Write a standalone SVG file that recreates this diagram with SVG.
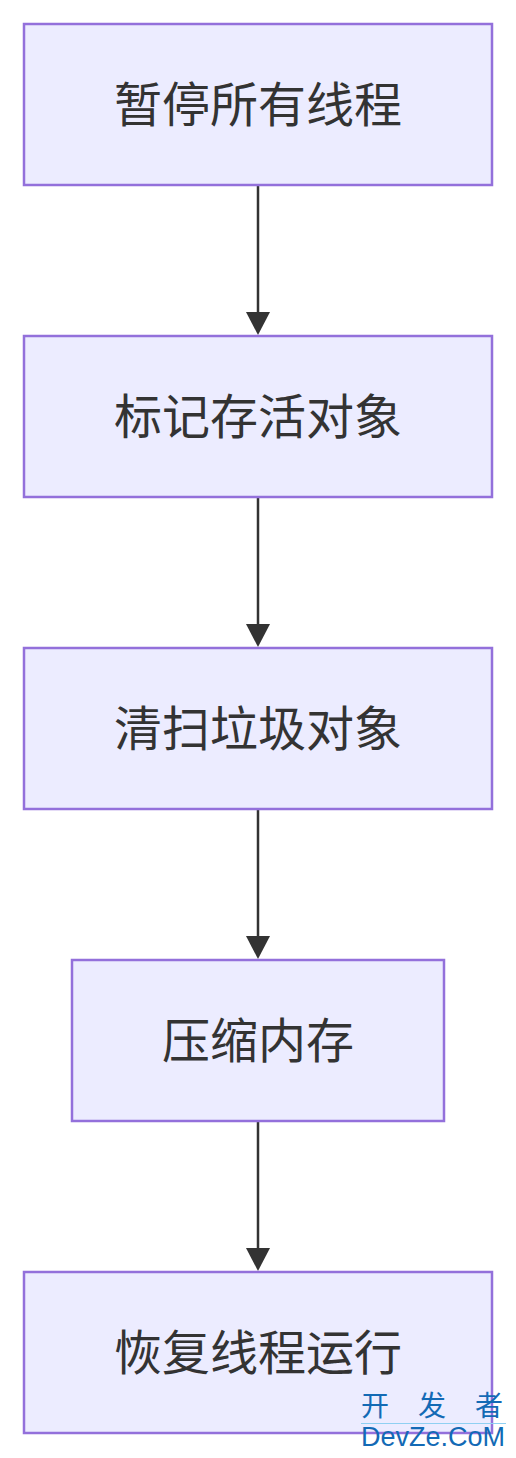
<svg xmlns="http://www.w3.org/2000/svg" width="516" height="1458" viewBox="0 0 516 1458">
<style>
.node rect{fill:#ECECFF;stroke:#9370DB;stroke-width:2.5}
.node text{font-family:"Noto Sans CJK SC","Noto Sans",sans-serif;font-size:48px;fill:#333333;text-anchor:middle}
.edge line{stroke:#333333;stroke-width:2.5}
.edge polygon{fill:#333333}
.wm{fill:#136ab5}
</style>
<rect x="0" y="0" width="516" height="1458" fill="#ffffff"/>
<g id="connectors">
<g class="edge"><line x1="258" y1="186" x2="258" y2="314"/><polygon points="246,312 270,312 258,335"/></g>
<g class="edge"><line x1="258" y1="498" x2="258" y2="626"/><polygon points="246,624 270,624 258,647"/></g>
<g class="edge"><line x1="258" y1="810" x2="258" y2="938"/><polygon points="246,936 270,936 258,959"/></g>
<g class="edge"><line x1="258" y1="1122" x2="258" y2="1250"/><polygon points="246,1248 270,1248 258,1271"/></g>
</g>
<g id="n1" class="node"><rect x="24" y="24" width="468" height="161"/><text x="258" y="122">暂停所有线程</text></g>
<g id="n2" class="node"><rect x="24" y="336" width="468" height="161"/><text x="258" y="434">标记存活对象</text></g>
<g id="n3" class="node"><rect x="24" y="648" width="468" height="161"/><text x="258" y="746">清扫垃圾对象</text></g>
<g id="n4" class="node"><rect x="72" y="960" width="372" height="161"/><text x="258" y="1058">压缩内存</text></g>
<g id="n5" class="node"><rect x="24" y="1272" width="468" height="161"/><text x="258" y="1370">恢复线程运行</text></g>
<g id="watermark">
<text class="wm" x="361" y="1416" font-size="28" font-family="'Noto Sans CJK SC','Noto Sans',sans-serif" textLength="142" lengthAdjust="spacing">开 发 者</text>
<line x1="361" y1="1423.5" x2="506" y2="1423.5" stroke="#8fd0f2" stroke-width="1"/>
<text class="wm" x="361" y="1446" font-size="27" font-family="'Liberation Sans',Arial,sans-serif" textLength="144" lengthAdjust="spacingAndGlyphs">DevZe.CoM</text>
</g>
</svg>
